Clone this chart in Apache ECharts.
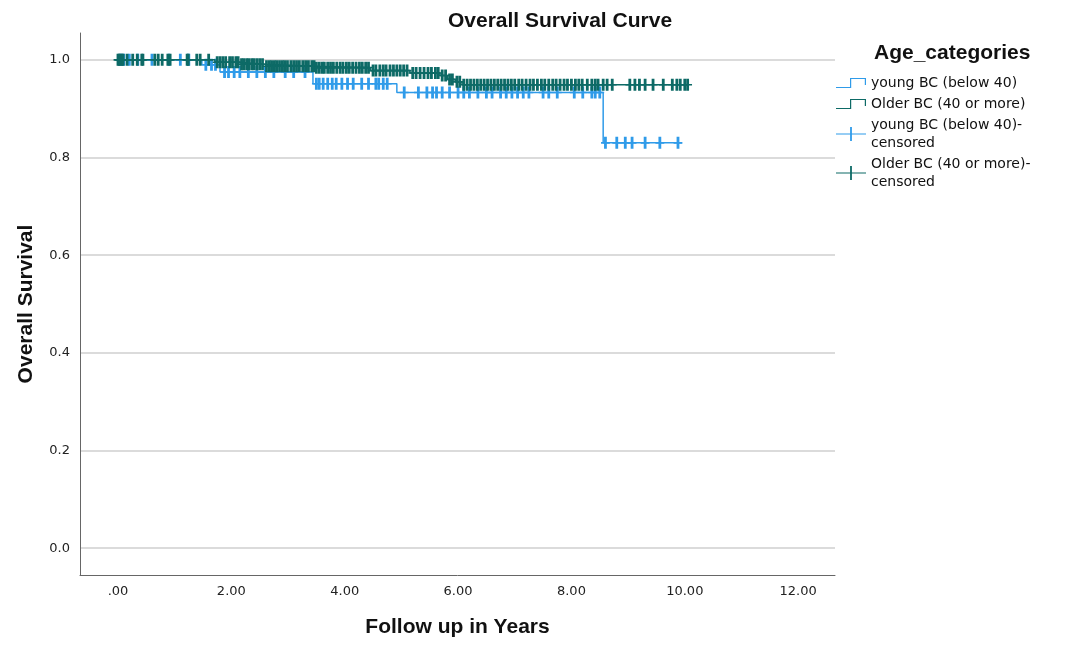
<!DOCTYPE html>
<html>
<head>
<meta charset="utf-8">
<script src="https://cdn.jsdelivr.net/npm/echarts@6/dist/echarts.min.js"></script>
<style>html,body{margin:0;padding:0;background:#fff}#chart{width:1068px;height:645px}</style>
</head>
<body>
<div id="chart"></div>
<script>
// Kaplan-Meier step points (time in years, survival after the step)
const youngTimes = [0, 1.48, 1.80, 3.44, 4.92, 8.56, 9.95];
const youngSurv  = [1.000, 0.990, 0.975, 0.951, 0.933, 0.830, 0.830];
const olderTimes = [0, 1.71, 2.15, 2.59, 3.48, 4.45, 5.15, 5.68, 5.81, 5.95, 6.07, 10.05];
const olderSurv  = [1.000, 0.995, 0.991, 0.987, 0.984, 0.978, 0.973, 0.968, 0.960, 0.955, 0.949, 0.949];

// censored observation times
const youngCensored = [0.05, 0.1, 0.2, 0.35, 0.6, 0.9, 1.1, 1.25,
  1.55, 1.65, 1.72,
  1.88, 1.95, 2.05, 2.15, 2.3, 2.45, 2.6, 2.75, 2.95, 3.1, 3.3,
  3.5, 3.55, 3.62, 3.7, 3.78, 3.85, 3.95, 4.05, 4.15, 4.3, 4.42, 4.55, 4.6, 4.68, 4.75,
  5.05, 5.3, 5.45, 5.55, 5.62, 5.72, 5.85, 6.0, 6.1, 6.2, 6.35, 6.5, 6.6, 6.75, 6.85, 6.95,
  7.05, 7.15, 7.25, 7.5, 7.6, 7.75, 8.05, 8.2, 8.36, 8.42, 8.5,
  8.6, 8.8, 8.95, 9.07, 9.3, 9.56, 9.88];
const olderCensored = [0.0, 0.02, 0.04, 0.07, 0.09, 0.16, 0.26, 0.34, 0.42, 0.44, 0.65, 0.71, 0.78, 0.88, 0.92,
  1.22, 1.24, 1.39, 1.45, 1.6,
  1.75, 1.8, 1.85, 1.9, 1.97, 2.02, 2.08, 2.12,
  2.18, 2.22, 2.27, 2.31, 2.36, 2.4, 2.45, 2.5, 2.55,
  2.62, 2.67, 2.71, 2.76, 2.8, 2.85, 2.9, 2.94, 2.99, 3.05, 3.1, 3.15, 3.2, 3.26, 3.31, 3.36, 3.42, 3.46,
  3.5, 3.55, 3.6, 3.64, 3.7, 3.75, 3.8, 3.86, 3.92, 3.97, 4.03, 4.08, 4.14, 4.2, 4.26, 4.31, 4.37, 4.42,
  4.5, 4.55, 4.62, 4.68, 4.73, 4.8, 4.86, 4.92, 4.98, 5.04, 5.1,
  5.2, 5.26, 5.33, 5.4, 5.47, 5.53, 5.6, 5.65,
  5.72, 5.78, 5.85, 5.9, 5.98, 6.03,
  6.1, 6.16, 6.22, 6.28, 6.34, 6.4, 6.46, 6.52, 6.58, 6.64, 6.7, 6.76, 6.82, 6.88, 6.94,
  7.0, 7.07, 7.13, 7.2, 7.27, 7.33, 7.4, 7.47, 7.53, 7.6, 7.67, 7.73, 7.8, 7.87, 7.93,
  8.0, 8.07, 8.13, 8.19, 8.28, 8.36, 8.42, 8.47, 8.56, 8.63, 8.72,
  9.03, 9.12, 9.2, 9.3, 9.44, 9.62, 9.78, 9.86, 9.92, 10.0, 10.05];

const xTicks = [0, 2, 4, 6, 8, 10, 12];
const yTicks = [0, 0.2, 0.4, 0.6, 0.8, 1.0];

const names = ['young BC (below 40)', 'Older BC (40 or more)',
  'young BC (below 40)-censored', 'Older BC (40 or more)-censored'];
const legendTitle = 'Age_categories';

const blue = '#2f9be9';
const teal = '#0d6a66';

function survAt(times, surv, t) {
  let s = surv[0];
  for (let i = 0; i < times.length; i++) { if (times[i] <= t) s = surv[i]; }
  return s;
}
const zip = (a, b) => a.map((v, i) => [v, b[i]]);
const censorPts = (ct, times, surv) => ct.map(t => [t, survAt(times, surv, t)]);

const plusPath = 'path://M3,0h2.8v12h-2.8zM0,5.2h8.8v1.6h-8.8z';
const stepIcon = 'path://M0,9h14v-9h16v7h-1.2v-5.8h-13.6v9h-15.2z';
const plusIcon = 'path://M0,6.4h30v1.2h-30zM14.1,0h1.8v14h-1.8z';

const chart = echarts.init(document.getElementById('chart'), null, {renderer: 'canvas'});
chart.setOption({
  animation: false,
  backgroundColor: '#fff',
  title: [{
    text: 'Overall Survival Curve',
    left: 555, top: 6, textAlign: 'center',
    textStyle: {fontFamily: 'Liberation Sans, sans-serif', fontWeight: 'bold', fontSize: 21, color: '#111'}
  }, {
    text: legendTitle,
    left: 869, top: 38,
    textStyle: {fontFamily: 'Liberation Sans, sans-serif', fontWeight: 'bold', fontSize: 21, color: '#111'}
  }],
  grid: {left: 80, right: 233, top: 33, bottom: 70, containLabel: false},
  legend: {
    orient: 'vertical', left: 836, top: 74, itemGap: 3,
    itemWidth: 30, itemHeight: 14, padding: 0,
    textStyle: {fontFamily: 'DejaVu Sans, sans-serif', fontSize: 14, color: '#111', lineHeight: 18},
    formatter: n => n.replace('-censored', '-\ncensored'),
    data: [
      {name: names[0], icon: stepIcon, itemStyle: {color: blue}},
      {name: names[1], icon: stepIcon, itemStyle: {color: teal}},
      {name: names[2], icon: plusIcon, itemStyle: {color: blue}},
      {name: names[3], icon: plusIcon, itemStyle: {color: teal}}
    ]
  },
  xAxis: {
    type: 'value', min: -0.67, max: 12.65,
    name: 'Follow up in Years', nameLocation: 'middle', nameGap: 42,
    nameTextStyle: {fontFamily: 'Liberation Sans, sans-serif', fontWeight: 'bold', fontSize: 21, color: '#111'},
    axisLine: {show: true, onZero: false, lineStyle: {color: '#666', width: 1}},
    axisTick: {show: false, customValues: xTicks},
    splitLine: {show: false},
    axisLabel: {
      customValues: xTicks, margin: 10,
      fontFamily: 'DejaVu Sans, sans-serif', fontSize: 13, color: '#222',
      formatter: v => v.toFixed(2).replace(/^0\./, '.')
    }
  },
  yAxis: {
    type: 'value', min: -0.055, max: 1.055,
    name: 'Overall Survival', nameLocation: 'middle', nameGap: 43, nameRotate: 90,
    nameTextStyle: {fontFamily: 'Liberation Sans, sans-serif', fontWeight: 'bold', fontSize: 21, color: '#111'},
    axisLine: {show: true, onZero: false, lineStyle: {color: '#666', width: 1}},
    axisTick: {show: false, customValues: yTicks},
    splitLine: {show: true, lineStyle: {color: '#cfcfcf', width: 1.5}},
    axisLabel: {
      customValues: yTicks, margin: 10,
      fontFamily: 'DejaVu Sans, sans-serif', fontSize: 13, color: '#222',
      formatter: v => v.toFixed(1)
    }
  },
  series: [
    {name: names[0], type: 'line', step: 'end', showSymbol: false, data: zip(youngTimes, youngSurv),
     lineStyle: {color: blue, width: 1.5}, itemStyle: {color: blue}, z: 2},
    {name: names[2], type: 'scatter', symbol: plusPath, symbolSize: [8.8, 12], symbolKeepAspect: false,
     data: censorPts(youngCensored, youngTimes, youngSurv), itemStyle: {color: blue, opacity: 1}, z: 3},
    {name: names[1], type: 'line', step: 'end', showSymbol: false, data: zip(olderTimes, olderSurv),
     lineStyle: {color: teal, width: 1.5}, itemStyle: {color: teal}, z: 4},
    {name: names[3], type: 'scatter', symbol: plusPath, symbolSize: [8.8, 12], symbolKeepAspect: false,
     data: censorPts(olderCensored, olderTimes, olderSurv), itemStyle: {color: teal, opacity: 1}, z: 5}
  ]
});
</script>
</body>
</html>
